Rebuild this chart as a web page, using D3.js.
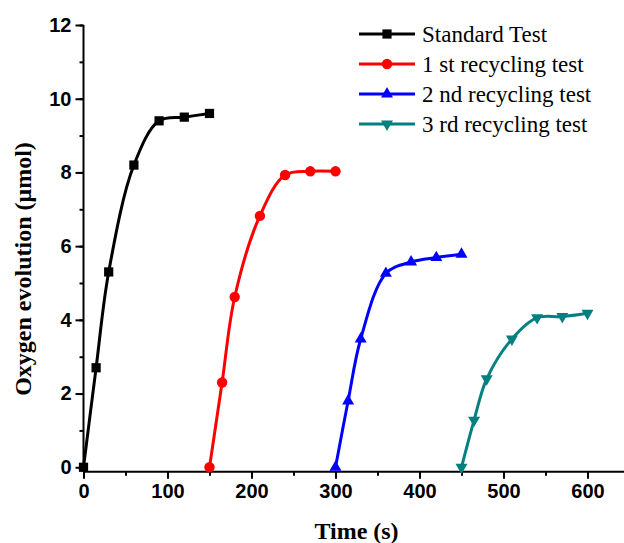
<!DOCTYPE html>
<html>
<head>
<meta charset="utf-8">
<script src="https://cdn.jsdelivr.net/npm/d3@7"></script>
<style>
  body { margin: 0; background: #fff; }
  .tick text { font-family: "Liberation Sans", Arial, sans-serif; font-weight: bold; font-size: 20px; fill: #000; }
  .axis-title { font-family: "Liberation Serif", "Times New Roman", serif; font-weight: bold; font-size: 24px; }
  .legend-label { font-family: "Liberation Serif", "Times New Roman", serif; font-size: 23px; }
</style>
</head>
<body>
<svg id="chart" width="624" height="543"></svg>
<script>
// data
const seriesNames = ["Standard Test", "1 st recycling test", "2 nd recycling test", "3 rd recycling test"];
const seriesColors = ["#000000", "#ff0000", "#0000ff", "#008080"];

const timeStd = [0, 15, 30, 60, 90, 120, 150];
const o2Std = [0, 2.7, 5.3, 8.2, 9.4, 9.5, 9.6];

const time1st = [150, 165, 180, 210, 240, 270, 300];
const o21st = [0, 2.3, 4.62, 6.82, 7.93, 8.03, 8.03];

const time2nd = [300, 315, 330, 360, 390, 420, 450];
const o22nd = [0, 1.8, 3.48, 5.26, 5.57, 5.69, 5.78];

const time3rd = [450, 465, 480, 510, 540, 570, 600];
const o23rd = [0, 1.28, 2.4, 3.48, 4.06, 4.09, 4.18];

const xTicks = [0, 100, 200, 300, 400, 500, 600];
const yTicks = [0, 2, 4, 6, 8, 10, 12];

const allTimes = [timeStd, time1st, time2nd, time3rd];
const allO2 = [o2Std, o21st, o22nd, o23rd];
const symbols = [d3.symbolSquare, d3.symbolCircle, d3.symbolTriangle, d3.symbolTriangle];
const symbolSizes = [85, 85, 62, 62];
const symbolRot = [0, 0, 0, 180];

const svg = d3.select("#chart");

const x = d3.scaleLinear().domain([0, 650]).range([83.5, 629.5]);
const y = d3.scaleLinear().domain([-0.12, 12]).range([471.7, 25]);
const yBase = y.range()[0];

// Axes ------------------------------------------------------------
const xAxisMinor = d3.axisBottom(x).tickValues(d3.range(0, 651, 50)).tickSize(4).tickFormat("");
const xAxis = d3.axisBottom(x).tickValues(xTicks).tickSize(7).tickPadding(5).tickFormat(d3.format("d"));
const yAxisMinor = d3.axisLeft(y).tickValues(d3.range(0, 13, 1)).tickSize(4).tickFormat("");
const yAxis = d3.axisLeft(y).tickValues(yTicks).tickSize(8).tickPadding(4).tickFormat(d3.format("d"));

function styleAxis(g) {
  g.select(".domain").attr("stroke", "#000").attr("stroke-width", 2);
  g.selectAll(".tick line").attr("stroke", "#000").attr("stroke-width", 2);
}

svg.append("g").attr("transform", `translate(0,${yBase})`).call(xAxisMinor).call(styleAxis)
  .select(".domain").remove();
svg.append("g").attr("transform", `translate(0,${yBase})`).call(xAxis).call(styleAxis)
  .select(".domain").attr("d", `M${x.range()[0]},0H${x.range()[1]}`);

svg.append("g").attr("transform", `translate(${x.range()[0]},0)`).call(yAxisMinor).call(styleAxis)
  .select(".domain").remove();
svg.append("g").attr("transform", `translate(${x.range()[0]},0)`).call(yAxis).call(styleAxis)
  .select(".domain").attr("d", `M0,${y.range()[1]}V${yBase}`);

svg.selectAll(".tick text").attr("font-size", 20);

// Titles
svg.append("text")
    .attr("class", "axis-title")
    .attr("x", (x.range()[0] + x.range()[1]) / 2)
    .attr("y", 539)
    .attr("text-anchor", "middle")
    .text("Time (s)");

svg.append("text")
    .attr("class", "axis-title")
    .attr("transform", "translate(31,269) rotate(-90)")
    .attr("text-anchor", "middle")
    .text("Oxygen evolution (\u03bcmol)");

// Series ----------------------------------------------------------
const line = d3.line()
    .x(d => x(d[0]))
    .y(d => y(d[1]))
    .curve(d3.curveCatmullRom.alpha(0.5));

seriesNames.forEach((name, i) => {
  const pts = allTimes[i].map((t, j) => [t, allO2[i][j]]);
  const g = svg.append("g").attr("class", "series");

  g.append("path")
      .datum(pts)
      .attr("d", line)
      .attr("fill", "none")
      .attr("stroke", seriesColors[i])
      .attr("stroke-width", 3);

  g.selectAll("path.marker")
    .data(pts)
    .enter()
    .append("path")
      .attr("class", "marker")
      .attr("d", d3.symbol().type(symbols[i]).size(symbolSizes[i]))
      .attr("transform", d => `translate(${x(d[0])},${y(d[1])}) rotate(${symbolRot[i]})`)
      .attr("fill", seriesColors[i]);
});

// Legend ----------------------------------------------------------
const legend = svg.append("g").attr("transform", "translate(359,34)");
seriesNames.forEach((name, i) => {
  const row = legend.append("g").attr("transform", `translate(0,${i * 30})`);
  row.append("line")
      .attr("x1", 0).attr("x2", 56)
      .attr("y1", 0).attr("y2", 0)
      .attr("stroke", seriesColors[i])
      .attr("stroke-width", 3);
  row.append("path")
      .attr("d", d3.symbol().type(symbols[i]).size(symbolSizes[i]))
      .attr("transform", `translate(28,0) rotate(${symbolRot[i]})`)
      .attr("fill", seriesColors[i]);
  row.append("text")
      .attr("class", "legend-label")
      .attr("x", 63)
      .attr("y", 8)
      .text(name);
});
</script>
</body>
</html>
